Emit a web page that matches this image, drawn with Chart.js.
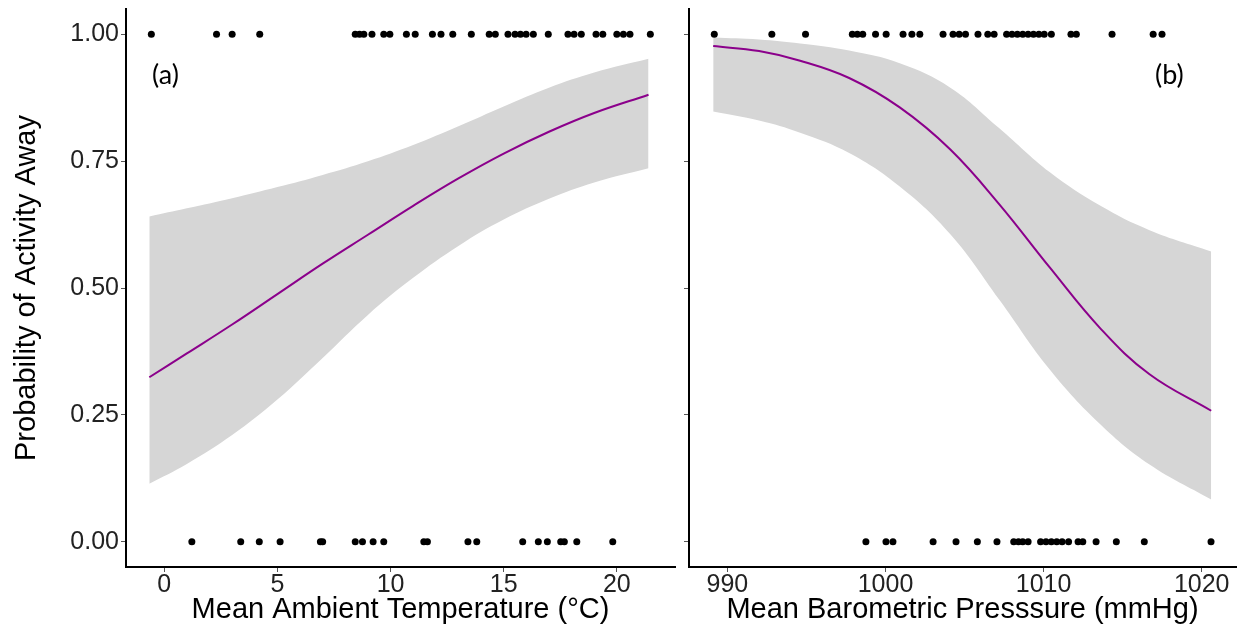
<!DOCTYPE html>
<html>
<head>
<meta charset="utf-8">
<script src="https://cdn.jsdelivr.net/npm/chart.js@4.4.0/dist/chart.umd.min.js"></script>
<style>
  body { margin: 0; background: #fff; width: 1241px; height: 635px; overflow: hidden; position: relative; }
  #tempChart { position: absolute; left: 0; top: 0; }
  #presChart { position: absolute; left: 680px; top: 0; }
  .tag { position: absolute; font-family: Lato, "Open Sans", sans-serif; font-size: 27px; color: #000; line-height: 32px; }
</style>
</head>
<body>
<canvas id="tempChart" width="680" height="635"></canvas>
<canvas id="presChart" width="561" height="635"></canvas>
<div class="tag" style="left:152px; top:58px;">(a)</div>
<div class="tag" style="left:1155px; top:58px;">(b)</div>
<script>
// tick labels
const yTicks = [0, 0.25, 0.5, 0.75, 1];
const tempTicks = [0, 5, 10, 15, 20];
const presTicks = [990, 1000, 1010, 1020];

// (a) temperature: fitted curve + 95% band
const tempGrid  = [-0.66, 1, 3, 5, 7, 9, 11, 13, 15, 17, 19, 21.4];
const tempFit   = [0.324, 0.371, 0.428, 0.488, 0.548, 0.605, 0.662, 0.716, 0.765, 0.808, 0.845, 0.881];
const tempUpper = [0.641, 0.657, 0.677, 0.699, 0.723, 0.750, 0.782, 0.819, 0.858, 0.895, 0.925, 0.952];
const tempLower = [0.114, 0.153, 0.210, 0.280, 0.362, 0.447, 0.520, 0.583, 0.635, 0.676, 0.708, 0.736];

// observations: away (1) / not away (0)
const tempAway = [-0.57, 2.31, 3.00, 4.22, 8.44, 8.63, 8.82, 9.18, 9.70, 9.97, 10.70, 11.09, 11.85, 12.23, 12.75,
  13.57, 14.36, 14.63, 15.19, 15.50, 15.74, 15.99, 16.31, 16.97, 17.84, 18.11, 18.43, 19.08, 19.38, 20.00, 20.29, 20.58, 21.48];
const tempHome = [1.22, 3.38, 4.20, 5.12, 6.90, 7.00, 8.44, 8.76, 9.23, 9.70, 11.47, 11.63, 13.42, 13.81, 15.84,
  16.53, 16.93, 17.52, 17.68, 18.23, 19.82];

// (b) pressure
const presGrid  = [989.1, 992.0, 994.6, 997.7, 1000.9, 1004.1, 1007.2, 1010.4, 1013.6, 1016.7, 1020.6];
const presFit   = [0.977, 0.967, 0.948, 0.914, 0.856, 0.773, 0.665, 0.540, 0.420, 0.330, 0.258];
const presUpper = [0.994, 0.990, 0.982, 0.968, 0.943, 0.895, 0.815, 0.728, 0.662, 0.614, 0.572];
const presLower = [0.848, 0.830, 0.806, 0.766, 0.700, 0.606, 0.477, 0.339, 0.231, 0.152, 0.083];

const presAway = [989.17, 992.81, 994.94, 997.90, 998.22, 998.56, 999.37, 1000.04, 1001.11, 1001.67, 1002.17, 1003.64,
  1004.27, 1004.66, 1005.06, 1005.85, 1006.47, 1006.87, 1007.66, 1008.00, 1008.34, 1008.68, 1009.02, 1009.36, 1009.70,
  1010.04, 1010.49, 1011.73, 1012.07, 1014.33, 1016.93, 1017.49];
const presHome = [998.76, 1000.03, 1000.47, 1003.01, 1004.46, 1005.81, 1007.05, 1008.11, 1008.41, 1008.68, 1009.02,
  1009.81, 1010.15, 1010.49, 1010.83, 1011.17, 1011.58, 1012.18, 1012.48, 1013.32, 1014.60, 1016.37, 1020.59];

Chart.defaults.font.family = "'Liberation Sans', Arial, sans-serif";
Chart.defaults.animation = false;

const TICK_SIZE = 25;
const TITLE_SIZE = 29;

function xy(xs, ys) {
  return xs.map((x, i) => ({ x: x, y: ys[i] }));
}
function flat(xs, v) {
  return xs.map(x => ({ x: x, y: v }));
}

function makePanel(id, p) {
  const ctx = document.getElementById(id).getContext("2d");
  return new Chart(ctx, {
    type: "scatter",
    data: {
      datasets: [
        { data: flat(p.away, 1).concat(flat(p.home, 0)), pointRadius: 3.5, pointHoverRadius: 3.5,
          backgroundColor: "#000", borderWidth: 0 },
        { data: xy(p.grid, p.fit), showLine: true, pointRadius: 0, borderColor: "#8B008B", borderWidth: 2,
          tension: 0.4, fill: false },
        { data: xy(p.grid, p.upper), showLine: true, pointRadius: 0, borderColor: "rgba(0,0,0,0)",
          tension: 0.4, fill: "+1", backgroundColor: "#d6d6d6" },
        { data: xy(p.grid, p.lower), showLine: true, pointRadius: 0, borderColor: "rgba(0,0,0,0)",
          tension: 0.4, fill: false }
      ]
    },
    options: {
      responsive: false,
      layout: { padding: { top: 9, right: 5, left: 0, bottom: 0 } },
      plugins: { legend: { display: false }, tooltip: { enabled: false } },
      scales: {
        x: {
          type: "linear", min: p.xMin, max: p.xMax,
          afterBuildTicks: s => { s.ticks = p.xTicks.map(v => ({ value: v })); },
          afterFit: s => { s.height = 68; s.paddingLeft = 0; s.paddingRight = 0; },
          ticks: { font: { size: TICK_SIZE }, color: "#222", padding: -2, maxRotation: 0, autoSkip: false,
            callback: v => String(v) },
          grid: { drawOnChartArea: false, drawTicks: true, tickLength: 5, color: "#555", lineWidth: 1 },
          border: { display: true, color: "#000", width: 2 },
          title: { display: true, text: p.xTitle, color: "#000", font: { size: TITLE_SIZE }, padding: { top: 0, bottom: 8 } }
        },
        y: {
          type: "linear", min: -0.05, max: 1.05,
          afterBuildTicks: s => { s.ticks = yTicks.map(v => ({ value: v })); },
          afterFit: s => { s.width = p.yWidth; s.paddingTop = 0; s.paddingBottom = 0; },
          ticks: { display: p.yLabels, font: { size: TICK_SIZE }, color: "#222", padding: 2,
            callback: v => v.toFixed(2) },
          grid: { drawOnChartArea: false, drawTicks: true, tickLength: 5, color: "#555", lineWidth: 1 },
          border: { display: true, color: "#000", width: 2 },
          title: { display: p.yLabels, text: "Probability of Activity Away", color: "#000",
            font: { size: TITLE_SIZE }, padding: { top: 10, bottom: 0 } }
        }
      }
    }
  });
}

makePanel("tempChart", {
  grid: tempGrid, fit: tempFit, upper: tempUpper, lower: tempLower,
  away: tempAway, home: tempHome,
  xMin: -1.69, xMax: 22.57, xTicks: tempTicks,
  xTitle: "Mean Ambient Temperature (\u00B0C)", yWidth: 126, yLabels: true
});

makePanel("presChart", {
  grid: presGrid, fit: presFit, upper: presUpper, lower: presLower,
  away: presAway, home: presHome,
  xMin: 987.57, xMax: 1022.17, xTicks: presTicks,
  xTitle: "Mean Barometric Presssure (mmHg)", yWidth: 9, yLabels: false
});
</script>
</body>
</html>
